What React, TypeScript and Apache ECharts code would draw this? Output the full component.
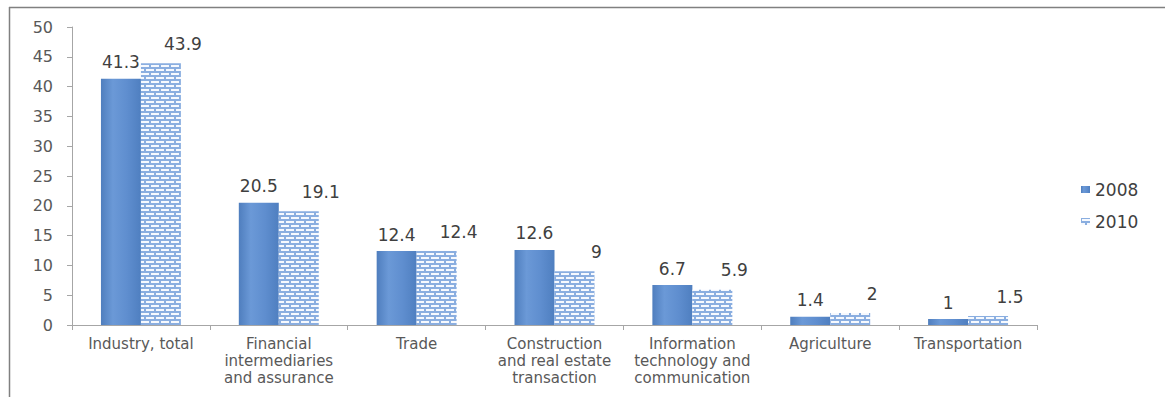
import React, { useEffect, useRef } from "react";
import * as echarts from "echarts";

const categories = [
  "Industry, total",
  "Financial\nintermediaries\nand assurance",
  "Trade",
  "Construction\nand real estate\ntransaction",
  "Information\ntechnology and\ncommunication",
  "Agriculture",
  "Transportation",
];
const seriesNames = ["2008", "2010"];
const values2008 = [41.3, 20.5, 12.4, 12.6, 6.7, 1.4, 1];
const values2010 = [43.9, 19.1, 12.4, 9, 5.9, 2, 1.5];
const yTicks = { min: 0, max: 50, interval: 5 };

function makePattern(): HTMLCanvasElement {
  const c = document.createElement("canvas");
  c.width = 10;
  c.height = 8;
  const ctx = c.getContext("2d")!;
  ctx.fillStyle = "#8AAEE0";
  ctx.fillRect(0, 0, 10, 8);
  ctx.fillStyle = "#F6F9FE";
  ctx.fillRect(1, 1, 8, 2);
  ctx.fillRect(0, 5, 4, 2);
  ctx.fillRect(6, 5, 4, 2);
  return c;
}

export default function App() {
  const ref = useRef<HTMLDivElement>(null);
  useEffect(() => {
    if (!ref.current) return;
    const chart = echarts.init(ref.current, null, { renderer: "svg" });
    const pattern = { image: makePattern(), repeat: "repeat" };
    const solid = new echarts.graphic.LinearGradient(0, 0, 1, 0, [
      { offset: 0, color: "#4F7EBE" },
      { offset: 0.3, color: "#6B99D7" },
      { offset: 0.65, color: "#5F8ECF" },
      { offset: 1, color: "#4F7FC0" },
    ]);
    const labelFont = {
      fontFamily: "DejaVu Sans",
      fontSize: 17,
      color: "#404040",
    };
    chart.setOption({
      animation: false,
      backgroundColor: "#ffffff",
      grid: { left: 72, right: 128, top: 27, bottom: 72, containLabel: false },
      legend: {
        orient: "vertical",
        left: 1076,
        top: 176,
        icon: "rect",
        itemWidth: 9,
        itemHeight: 7,
        itemGap: 15,
        textStyle: { fontFamily: "DejaVu Sans", fontSize: 17, color: "#404040" },
        data: seriesNames,
      },
      xAxis: {
        type: "category",
        data: categories,
        axisLine: { lineStyle: { color: "#A6A6A6", width: 1 } },
        axisTick: { show: true, alignWithLabel: false, length: 5, lineStyle: { color: "#A6A6A6" } },
        axisLabel: {
          interval: 0,
          margin: 10,
          fontFamily: "DejaVu Sans",
          fontSize: 15,
          lineHeight: 17,
          color: "#595959",
        },
      },
      yAxis: {
        type: "value",
        min: yTicks.min,
        max: yTicks.max,
        interval: yTicks.interval,
        splitLine: { show: false },
        axisLine: { show: true, lineStyle: { color: "#A6A6A6", width: 1 } },
        axisTick: { show: true, length: 5, lineStyle: { color: "#A6A6A6" } },
        axisLabel: {
          margin: 19,
          fontFamily: "DejaVu Sans",
          fontSize: 16,
          color: "#595959",
        },
      },
      series: [
        {
          name: seriesNames[0],
          type: "bar",
          data: values2008,
          barGap: "0%",
          barCategoryGap: "42%",
          itemStyle: { color: solid },
          label: { show: true, position: "top", distance: 8, ...labelFont },
        },
        {
          name: seriesNames[1],
          type: "bar",
          data: values2010,
          barGap: "0%",
          barCategoryGap: "42%",
          itemStyle: { color: pattern },
          label: {
            show: true,
            position: "top",
            distance: 8,
            offset: [22, -3],
            ...labelFont,
          },
        },
      ],
      graphic: [
        {
          type: "line",
          shape: { x1: 9, y1: 7.5, x2: 1165, y2: 7.5 },
          style: { stroke: "#808080", lineWidth: 1.5 },
          silent: true,
        },
        {
          type: "line",
          shape: { x1: 9.5, y1: 7, x2: 9.5, y2: 397 },
          style: { stroke: "#808080", lineWidth: 1.5 },
          silent: true,
        },
      ],
    });
    return () => chart.dispose();
  }, []);
  return (
    <div
      ref={ref}
      style={{ position: "absolute", left: 0, top: 0, width: 1165, height: 397 }}
    />
  );
}
